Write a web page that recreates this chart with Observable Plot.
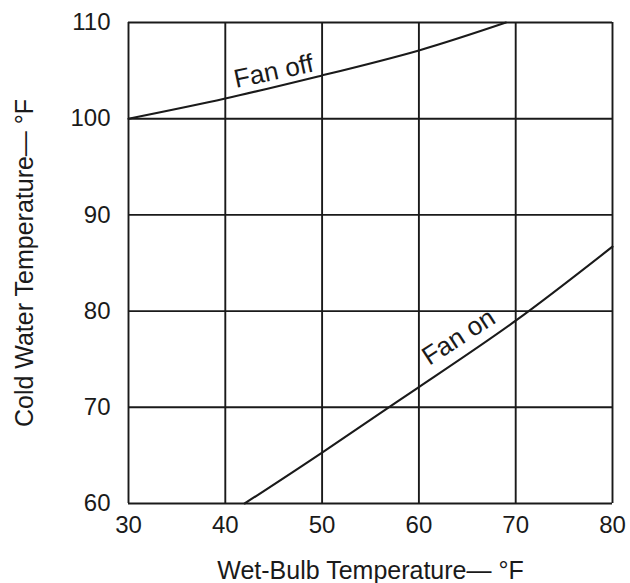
<!DOCTYPE html>
<html>
<head>
<meta charset="utf-8">
<script src="https://cdn.jsdelivr.net/npm/d3@7"></script>
<script src="https://cdn.jsdelivr.net/npm/@observablehq/plot@0.6"></script>
<style>
  html, body { margin: 0; padding: 0; background: #fff; }
  #chart svg { display: block; }
</style>
</head>
<body>
<div id="chart"></div>
<script>
const xTicks = [30, 40, 50, 60, 70, 80];
const yTicks = [60, 70, 80, 90, 100, 110];

const fanOffX = [30, 40, 50, 60, 69];
const fanOffY = [100, 102.1, 104.5, 107.1, 110];

const fanOnX = [42, 50, 60, 70, 80];
const fanOnY = [60, 65.3, 72.1, 79.0, 86.7];

const labelText = ["Fan off", "Fan on"];
const labelX = [45.0, 64.1];
const labelY = [104.9, 77.3];
const labelRot = [-12, -33];

const xLabel = "Wet-Bulb Temperature\u2014 \u00B0F";
const yLabel = "Cold Water Temperature\u2014 \u00B0F";

const fanOff = fanOffX.map((x, i) => ({x, y: fanOffY[i]}));
const fanOn = fanOnX.map((x, i) => ({x, y: fanOnY[i]}));
const labels = labelText.map((t, i) => ({t, x: labelX[i], y: labelY[i], r: labelRot[i]}));

const ink = "#1a1a1a";

const chart = Plot.plot({
  width: 630,
  height: 583,
  marginLeft: 128,
  marginRight: 18,
  marginTop: 22,
  marginBottom: 80,
  style: {fontFamily: "'Liberation Sans', Arial, sans-serif", fontSize: "24px", color: ink, background: "#fff"},
  x: {domain: [30, 80], ticks: xTicks, tickSize: 0, label: null},
  y: {domain: [60, 110], ticks: yTicks, tickSize: 0, label: null},
  marks: [
    Plot.ruleX(xTicks, {stroke: ink, strokeWidth: 1.9}),
    Plot.ruleY(yTicks, {stroke: ink, strokeWidth: 1.9}),
    Plot.line(fanOff, {x: "x", y: "y", curve: "natural", stroke: ink, strokeWidth: 2.1}),
    Plot.line(fanOn, {x: "x", y: "y", curve: "natural", stroke: ink, strokeWidth: 2.1}),
    ...labels.map(d => Plot.text([d], {x: "x", y: "y", text: "t", rotate: d.r, fontSize: 26, fill: ink, stroke: "none"})),
    Plot.axisX({ticks: xTicks, tickSize: 0, tickPadding: 12, fontSize: 24, label: null}),
    Plot.axisY({ticks: yTicks, tickSize: 0, tickPadding: 18, fontSize: 24, label: null}),
    Plot.text([xLabel], {frameAnchor: "bottom", textAnchor: "middle", lineAnchor: "middle", dy: 67, fontSize: 25, fill: ink, style: {letterSpacing: "1px"}}),
    Plot.text([yLabel], {frameAnchor: "left", textAnchor: "middle", lineAnchor: "middle", rotate: -90, dx: -104, fontSize: 25, fill: ink, style: {letterSpacing: "0.3px"}})
  ]
});

document.getElementById("chart").appendChild(chart);
</script>
</body>
</html>
